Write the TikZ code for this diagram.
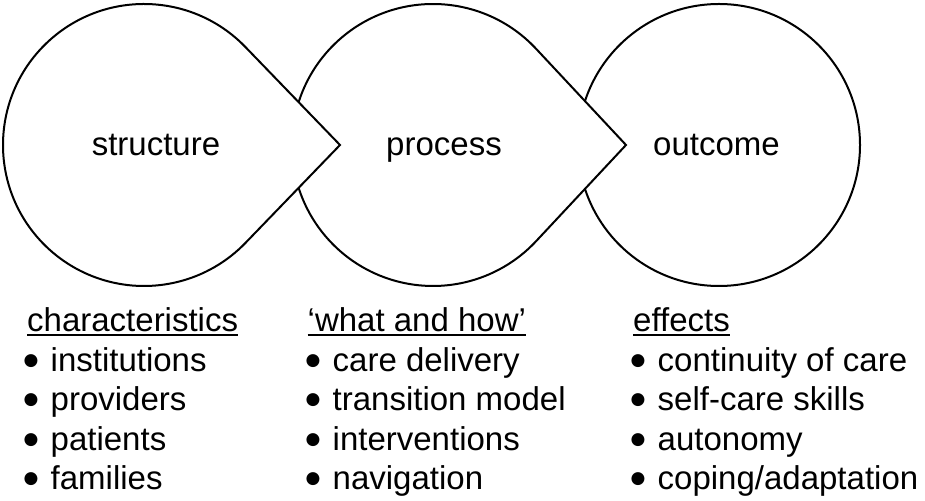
\documentclass[tikz,border=0pt]{standalone}
\usepackage{fontspec}
\setmainfont{Liberation Sans}
\newfontfamily\bulfont{DejaVu Sans}
\newcommand\myuline[1]{\setbox0\hbox{#1}\rlap{\rule[-4.2pt]{\wd0}{1.9pt}}\box0}
\newcommand\mybul{\makebox[26.5pt][l]{\hspace{-0.5pt}\raisebox{6.3pt}{\fontsize{17}{17}\bulfont ●}}}
\usetikzlibrary{calc}
\begin{document}
\begin{tikzpicture}[x=1pt,y=1pt,
  shapeline/.style={draw=black,line width=2pt,fill=white,line join=miter},
  lab/.style={inner sep=0pt,anchor=base,font=\fontsize{33}{39.5}\selectfont},
  item/.style={inner sep=0pt,anchor=base west,font=\fontsize{33}{39.5}\selectfont}]
\fill[white] (0,0) rectangle (925,500);
\useasboundingbox (0,0) rectangle (925,500);
% centres and tips
\coordinate (sc) at (144,355);
\coordinate (stip) at (340,355);
\coordinate (pc) at (433,355);
\coordinate (ptip) at (626,355);
\coordinate (oc) at (719,355);
% outcome circle
\path[shapeline] (oc) circle[radius=141];
% process teardrop
\path[shapeline] (ptip) -- ($(pc)+(43.07:141)$) arc[start angle=43.07,end angle=316.93,radius=141] -- cycle;
% structure teardrop
\path[shapeline] (stip) -- ($(sc)+(44:141)$) arc[start angle=44,end angle=316,radius=141] -- cycle;
% labels in shapes
\node[lab] (structure) at (156,344) {structure};
\node[lab] (process) at (444,344) {process};
\node[lab] (outcome) at (716.5,344) {outcome};
% left column
\node[item] (h1) at (27,168) {\myuline{characteristics}};
\node[item] (a1) at (24,128) {\mybul institutions};
\node[item] (a2) at (24,89) {\mybul providers};
\node[item] (a3) at (24,49.5) {\mybul patients};
\node[item] (a4) at (24,10.5) {\mybul families};
% middle column
\node[item] (h2) at (307.5,168) {\myuline{‘what and how’}};
\node[item] (b1) at (306,128) {\mybul care delivery};
\node[item] (b2) at (306,89) {\mybul transition model};
\node[item] (b3) at (306,49.5) {\mybul interventions};
\node[item] (b4) at (306,10.5) {\mybul navigation};
% right column
\node[item] (h3) at (633,168) {\myuline{effects}};
\node[item] (c1) at (631,128) {\mybul continuity of care};
\node[item] (c2) at (631,89) {\mybul self-care skills};
\node[item] (c3) at (631,49.5) {\mybul autonomy};
\node[item] (c4) at (631,10.5) {\mybul coping/adaptation};
\end{tikzpicture}
\end{document}
